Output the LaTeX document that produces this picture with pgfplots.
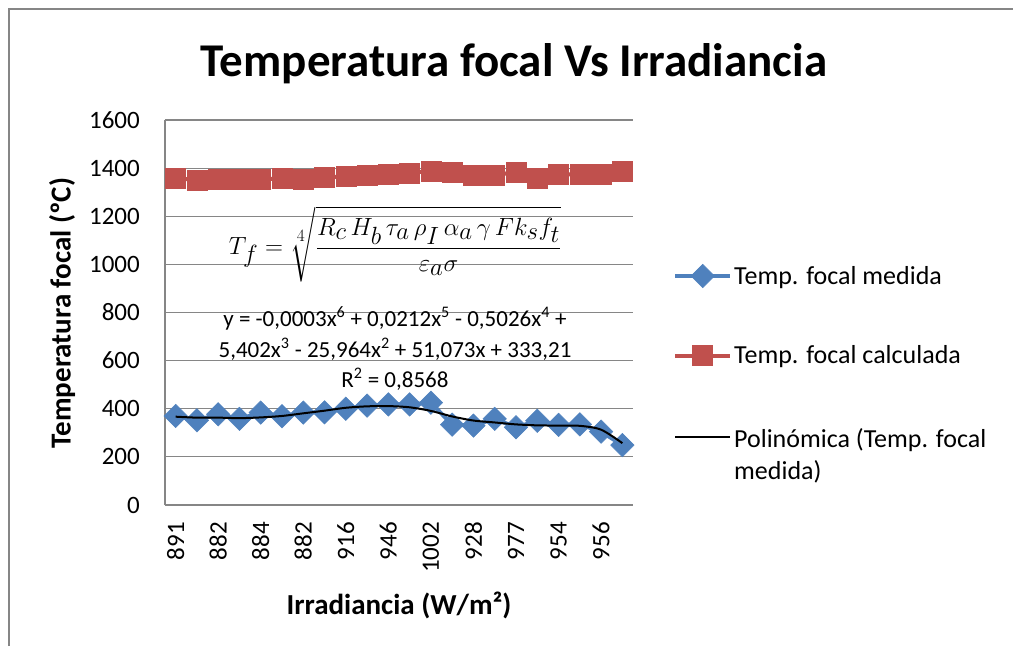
\documentclass[border=0pt]{standalone}
\usepackage{amsmath}
\usepackage{pgfplots}
\pgfplotsset{compat=1.18}
\usepackage{fontspec}
\setmainfont{Carlito}
\definecolor{xlblue}{HTML}{4F81BD}
\definecolor{xlred}{HTML}{C0504D}
\definecolor{xlgray}{HTML}{868686}
\begin{document}
\begin{tikzpicture}[x=1pt,y=1pt]
\useasboundingbox (0,0) rectangle (1013,646);
\draw[xlgray, line width=1.5pt] (9,0) -- (9,637) -- (1013,637);
\begin{axis}[
  at={(165pt,141pt)}, anchor=south west,
  width=468pt, height=385pt, scale only axis,
  clip=false,
  xmin=0.5, xmax=22.5, ymin=0, ymax=1600,
  xtick={1,3,...,21},
  xticklabels={891,882,884,882,916,946,1002,928,977,954,956},
  ytick={0,200,...,1600},
  axis x line*=bottom, axis y line*=left,
  axis line style={xlgray, line width=1.5pt, -},
  ymajorgrids, grid style={xlgray, line width=1.2pt},
  major tick length=0pt,
  /pgf/number format/assume math mode=true,
  /pgf/number format/set thousands separator={},
  tick label style={font=\fontsize{25}{30}\selectfont, text=black, inner sep=0pt},
  yticklabel shift=25pt,
  xticklabel shift=17pt,
  xticklabel style={rotate=90, anchor=east},
  xlabel={Irradiancia (W/m²)},
  xlabel style={font=\bfseries\fontsize{29}{34}\selectfont, at={(axis description cs:0.5,-0.26)}, anchor=center},
  ylabel={Temperatura focal (ºC)},
  ylabel style={font=\bfseries\fontsize{29}{34}\selectfont, at={(axis description cs:-0.220,0.499)}, anchor=center},
  title={Temperatura focal Vs Irradiancia},
  title style={font=\bfseries\fontsize{47}{56}\selectfont, at={(axis description cs:0.7457,1.13)}, anchor=center},
  legend style={draw=none, fill=none, at={(axis description cs:1.0855,0.626)}, anchor=north west,
    font=\fontsize{26}{32}\selectfont, row sep=56pt, inner sep=0pt, nodes={inner sep=2pt}},
  legend cell align=left,
  legend image code/.code={\draw[#1, mark repeat=2, mark phase=2] plot coordinates {(0pt,0pt) (27.5pt,0pt) (55pt,0pt)};},
]
\addplot[xlblue, line width=4pt, mark=square*, mark size=8.3pt, mark options={rotate=45, solid, line width=0.5pt}] coordinates {
(1,370) (2,352) (3,377) (4,358) (5,384) (6,369) (7,384) (8,385) (9,400) (10,413) (11,418)
(12,418) (13,425) (14,334) (15,330) (16,358) (17,323) (18,350) (19,333) (20,335) (21,305) (22,249)};
\addlegendentry{Temp. focal medida}
\addplot[xlred, line width=4pt, mark=square*, mark size=10pt, mark options={solid, line width=0.5pt}] coordinates {
(1,1358) (2,1351) (3,1354) (4,1354) (5,1354) (6,1356) (7,1354) (8,1363) (9,1365) (10,1370) (11,1373)
(12,1379) (13,1389) (14,1381) (15,1369) (16,1372) (17,1383) (18,1359) (19,1376) (20,1373) (21,1376) (22,1385)};
\addlegendentry{Temp. focal calculada}
\addlegendimage{black, line width=2pt, no marks}
\addlegendentry{\begin{tabular}[t]{@{}l@{}}Polinómica (Temp. focal\\medida)\end{tabular}}
\end{axis}
\begin{axis}[
  at={(165pt,141pt)}, anchor=south west,
  width=468pt, height=385pt, scale only axis,
  clip=false, hide axis,
  xmin=0.5, xmax=22.5, ymin=0, ymax=1600,
]
\addplot[black, line width=2pt, smooth, no marks] coordinates {
(1,367) (2,363) (3,363) (4,361) (5,364) (6,370) (7,381) (8,392) (9,404) (10,410) (11,411)
(12,406) (13,391) (14,368) (15,351) (16,343) (17,335) (18,331) (19,330) (20,329) (21,313) (22,257)};
\end{axis}
\node at (395,402) {\fontsize{35}{42}\selectfont $\displaystyle T_f=\sqrt[4]{\frac{R_c\,H_b\,\tau_a\,\rho_I\,\alpha_a\,\gamma\, F k_s f_t}{\varepsilon_a\sigma}}$};
\node[align=center, font=\fontsize{23}{30.5}\selectfont] at (395,297) {y = -0,0003x\textsuperscript{6} + 0,0212x\textsuperscript{5} - 0,5026x\textsuperscript{4} +\\5,402x\textsuperscript{3} - 25,964x\textsuperscript{2} + 51,073x + 333,21\\R\textsuperscript{2} = 0,8568};
\end{tikzpicture}
\end{document}
